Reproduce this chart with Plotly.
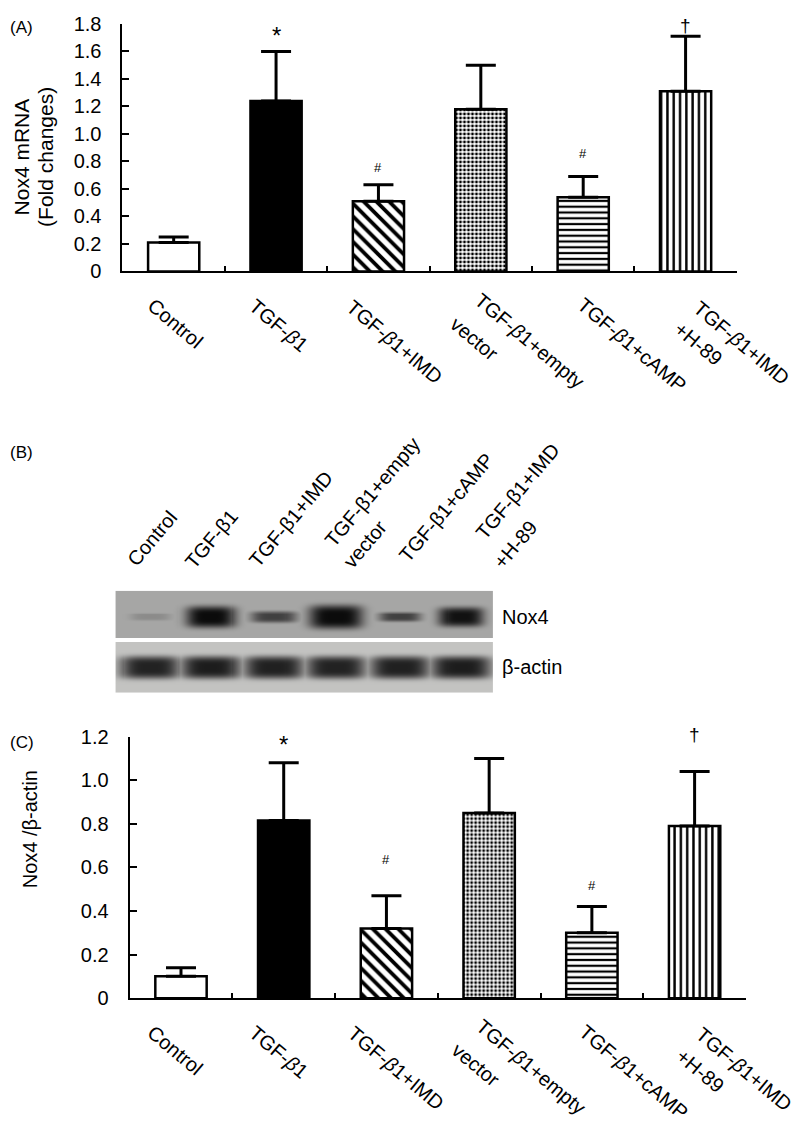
import numpy as np
import plotly.graph_objects as go

# groups, in plotting order
groups = ["Control", "TGF-β1", "TGF-β1+IMD", "TGF-β1+empty vector",
          "TGF-β1+cAMP", "TGF-β1+IMD+H-89"]

# (A) Nox4 mRNA (fold changes), mean and SD
mrna_mean = [0.21, 1.24, 0.51, 1.18, 0.54, 1.31]
mrna_sd = [0.04, 0.36, 0.12, 0.32, 0.15, 0.40]

# (C) Nox4 / beta-actin densitometry
ratio_mean = [0.10, 0.815, 0.32, 0.85, 0.30, 0.79]
ratio_sd = [0.04, 0.265, 0.15, 0.25, 0.12, 0.25]

sig_marks = ["", "*", "#", "", "#", "†"]

a_ticks = [0, 0.2, 0.4, 0.6, 0.8, 1.0, 1.2, 1.4, 1.6, 1.8]
a_ticktext = ["0", "0.2", "0.4", "0.6", "0.8", "1.0", "1.2", "1.4", "1.6", "1.8"]
c_ticks = [0, 0.2, 0.4, 0.6, 0.8, 1.0, 1.2]
c_ticktext = ["0", "0.2", "0.4", "0.6", "0.8", "1.0", "1.2"]

# (B) western blot, band strength per lane (0 = nothing, 1 = saturated)
nox4_band = [0.15, 0.97, 0.62, 0.97, 0.62, 0.92]
actin_band = [0.85, 0.88, 0.86, 0.85, 0.86, 0.88]

bar_lines = [["Control"], ["TGF-<i>β</i>1"], ["TGF-<i>β</i>1+IMD"],
             ["TGF-<i>β</i>1+empty", "vector"], ["TGF-<i>β</i>1+cAMP"],
             ["TGF-<i>β</i>1+IMD", "+H-89"]]
blot_lines = [["Control"], ["TGF-β1"], ["TGF-β1+IMD"],
              ["TGF-β1+empty", "vector"], ["TGF-β1+cAMP"],
              ["TGF-β1+IMD", "+H-89"]]

W, H = 800, 1130
FONT = "Liberation Sans, Arial, sans-serif"

# the page shows the figure shrunk a little and offset (body margin),
# so screen positions are mapped back to figure pixels
SX, SY = 0.98, 0.981
OX, OY = 7.8, 19.0

# bar styling
fills = ["white", "black", "black", "black", "black", "black"]
pat_shape = ["", "", "\\", ".", "-", "|"]
pat_size = [8, 8, 9, 4, 5.8, 6.3]
pat_solid = [0.3, 0.3, 0.42, 0.42, 0.38, 0.38]

# label centres, screen-pixel offsets from category centre / zero line
xlab_off = [[(1, 51)], [(2, 53)], [(16, 69)], [(48, 68), (-6, 66)],
            [(48, 72)], [(55, 70), (13, 71)]]
# blot label centres, screen-pixel offsets from lane centre / top of blot
blot_off = [[(2, 52)], [(1, 51)], [(17, 71)], [(36, 97), (29, 46)],
            [(45, 82)], [(56, 98), (54, 46)]]
# centre of each mark above its error cap (screen pixels)
a_sig_gap = [0, 16, 17, 0, 23, 11]
c_sig_gap = [0, 18, 36, 0, 21, 36]
sig_size = {"*": 24, "#": 13, "†": 19}


def px_x(p):
    return (p - OX) / SX / W


def px_y(p):
    return 1 - (p - OY) / SY / H


fig = go.Figure()
ann = []


def bar_panel(means, sds, xa, ya, gaps, lab_dx):
    fig.add_trace(go.Bar(
        x=groups, y=means, width=0.5, xaxis=xa, yaxis=ya,
        marker=dict(color=fills, line=dict(color="black", width=2.5),
                    pattern=dict(shape=pat_shape, size=pat_size, solidity=pat_solid,
                                 fgcolor="black", bgcolor="white", fillmode="replace")),
        error_y=dict(type="data", symmetric=False, array=sds, arrayminus=[0] * 6,
                     color="black", thickness=3, width=15),
        hoverinfo="skip"))
    for i, g in enumerate(groups):
        for txt, (dx, dy) in zip(bar_lines[i], xlab_off[i]):
            ann.append(dict(x=g, y=0, xref=xa, yref=ya, text=txt, textangle=40,
                            xanchor="center", yanchor="middle",
                            xshift=(dx + lab_dx) / SX, yshift=-dy / SY,
                            showarrow=False, font=dict(size=20)))
        m = sig_marks[i]
        if m:
            ann.append(dict(x=g, y=means[i] + sds[i], xref=xa, yref=ya, text=m,
                            xanchor="center", yanchor="middle",
                            yshift=gaps[i] / SY,
                            showarrow=False, font=dict(size=sig_size[m])))


bar_panel(mrna_mean, mrna_sd, "x", "y", a_sig_gap, 0)
bar_panel(ratio_mean, ratio_sd, "x2", "y2", c_sig_gap, -7)

# blot picture, rebuilt from the band strengths
bw, bh = 370, 102
lane_x = [34, 93, 155, 216, 279, 339]
nox_hw = [20, 24, 22, 26, 20, 22]
nox_hh = [4, 11, 6, 12, 5, 10]
gx, gy = np.meshgrid(np.arange(bw + 1), np.arange(bh + 1))
z = np.full(gx.shape, np.nan)
nox_rows = gy < 48
act_rows = gy >= 52
z[nox_rows] = 0.71
z[act_rows] = 0.81 + 0.03 * (gy[act_rows] < 62)
for i, lx in enumerate(lane_x):
    prof = np.exp(-np.abs((gx - lx) / nox_hw[i]) ** 4 - np.abs((gy - 26) / nox_hh[i]) ** 4)
    dark = 0.71 - 0.67 * nox4_band[i] * prof
    z[nox_rows] = np.minimum(z[nox_rows], dark[nox_rows])
    prof = np.exp(-np.abs((gx - lx) / 29) ** 4 - np.abs((gy - 77) / 11) ** 4)
    dark = 0.81 - 0.76 * actin_band[i] * prof
    z[act_rows] = np.minimum(z[act_rows], dark[act_rows])

fig.add_trace(go.Heatmap(z=z, x=np.arange(bw + 1), y=np.arange(bh + 1),
                         xaxis="x3", yaxis="y3", colorscale="gray", zmin=0, zmax=1,
                         showscale=False, hoverinfo="skip"))

for i, lx in enumerate(lane_x):
    for txt, (dx, dy) in zip(blot_lines[i], blot_off[i]):
        ann.append(dict(x=lx, y=0, xref="x3", yref="y3", text=txt, textangle=-50,
                        xanchor="center", yanchor="middle",
                        xshift=dx / SX, yshift=dy / SY,
                        showarrow=False, font=dict(size=20)))
ann.append(dict(x=bw, y=26, xref="x3", yref="y3", text="Nox4", xanchor="left",
                yanchor="middle", xshift=8, showarrow=False, font=dict(size=20)))
ann.append(dict(x=bw, y=77, xref="x3", yref="y3", text="β-actin", xanchor="left",
                yanchor="middle", xshift=8, showarrow=False, font=dict(size=20)))

# panel letters and axis titles
for txt, py in [("(A)", 28), ("(B)", 453), ("(C)", 743)]:
    ann.append(dict(x=px_x(8), y=px_y(py), xref="paper", yref="paper", text=txt,
                    xanchor="left", yanchor="middle", showarrow=False,
                    font=dict(size=17)))
for txt, px, py, fs in [("Nox4 mRNA", 21, 157, 21), ("(Fold changes)", 45, 157, 21),
                        ("Nox4 /β-actin", 29, 830, 20)]:
    ann.append(dict(x=px_x(px), y=px_y(py), xref="paper", yref="paper", text=txt,
                    textangle=-90, xanchor="center", yanchor="middle",
                    showarrow=False, font=dict(size=fs)))

xcommon = dict(type="category", range=[-0.5, 5.5], showline=True, linewidth=2,
               linecolor="black", ticks="inside", tickson="boundaries", ticklen=5,
               tickwidth=2, tickcolor="black", showticklabels=False, showgrid=False,
               zeroline=False, fixedrange=True)
ycommon = dict(showline=True, linewidth=2, linecolor="black", ticks="inside",
               ticklen=7, tickwidth=2, tickcolor="black", showgrid=False,
               zeroline=False, tickfont=dict(size=20), ticklabelstandoff=15)

fig.update_layout(
    width=W, height=H, margin=dict(l=0, r=0, t=0, b=0),
    paper_bgcolor="white", plot_bgcolor="white", showlegend=False,
    font=dict(family=FONT, color="black"),
    xaxis=dict(xcommon, domain=[px_x(120), px_x(722)], anchor="y"),
    yaxis=dict(ycommon, domain=[px_y(271.5), px_y(24)], range=[0, 1.8],
               tickvals=a_ticks, ticktext=a_ticktext, anchor="x"),
    xaxis2=dict(xcommon, domain=[px_x(127), px_x(731)], anchor="y2"),
    yaxis2=dict(ycommon, domain=[px_y(998.6), px_y(737)], range=[0, 1.2],
                tickvals=c_ticks, ticktext=c_ticktext, anchor="x2"),
    xaxis3=dict(domain=[px_x(113), px_x(483)], range=[-0.5, bw + 0.5], visible=False,
                anchor="y3"),
    yaxis3=dict(domain=[px_y(693), px_y(591)], range=[bh + 0.5, -0.5], visible=False,
                anchor="x3"),
    annotations=ann,
)

fig.write_html("out.html")
